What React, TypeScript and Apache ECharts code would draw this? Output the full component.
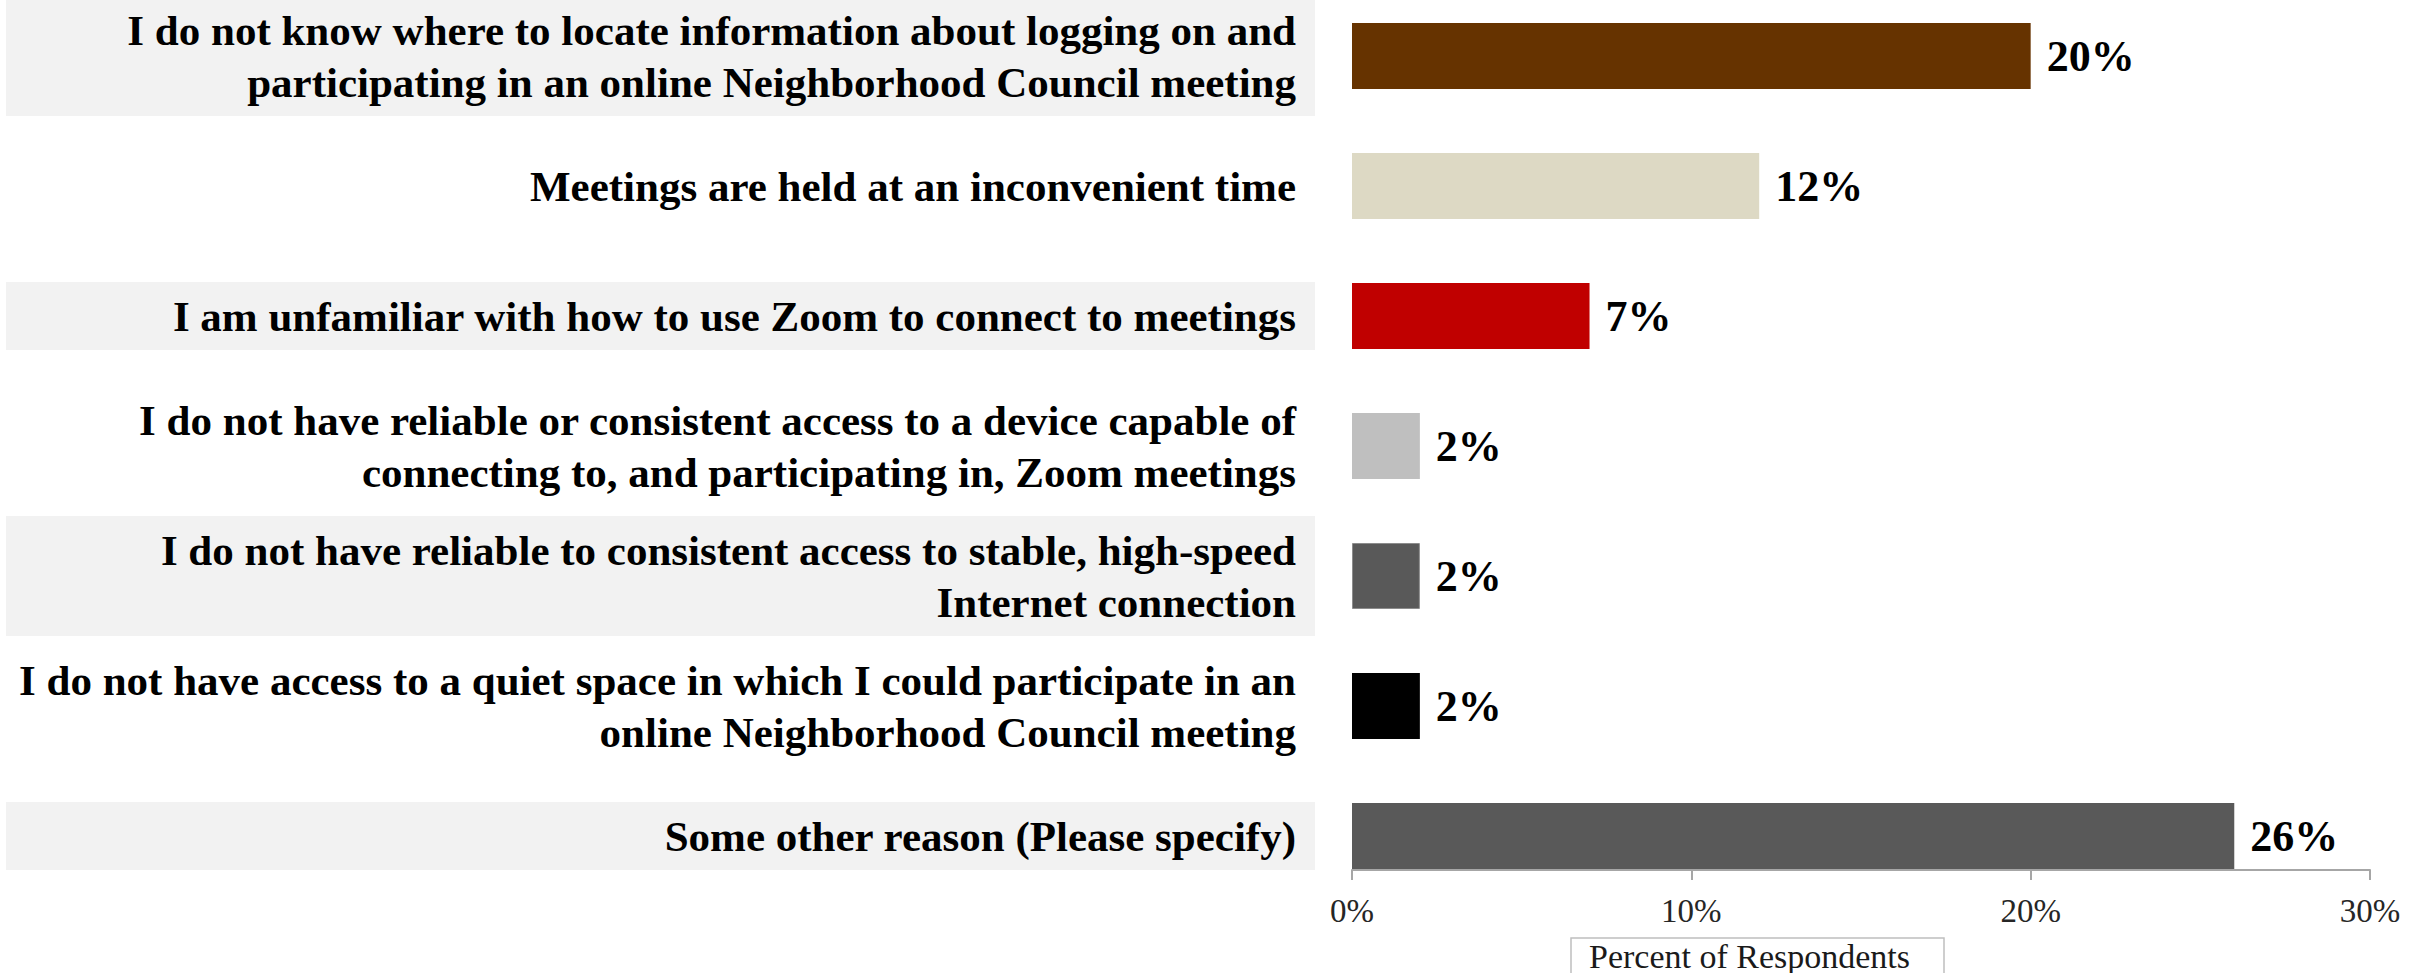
import React, { useEffect, useRef } from "react";
import * as echarts from "echarts";

const categories = [
  "I do not know where to locate information about logging on and\nparticipating in an online Neighborhood Council meeting",
  "Meetings are held at an inconvenient time",
  "I am unfamiliar with how to use Zoom to connect to meetings",
  "I do not have reliable or consistent access to a device capable of\nconnecting to, and participating in, Zoom meetings",
  "I do not have reliable to consistent access to stable, high-speed\nInternet connection",
  "I do not have access to a quiet space in which I could participate in an\nonline Neighborhood Council meeting",
  "Some other reason (Please specify)",
];
const percentValues = [20, 12, 7, 2, 2, 2, 26];
const xTickStep = 10;
const xMax = 30;
const axisTitle = "Percent of Respondents";
const barColors = ["#663300", "#DDD9C4", "#C00000", "#BFBFBF", "#595959", "#000000", "#595959"];
const shadedRows = [true, false, true, false, true, false, true];

const SERIF = "'Liberation Serif', 'Times New Roman', serif";

export default function App() {
  const ref = useRef<HTMLDivElement>(null);
  useEffect(() => {
    if (!ref.current) return;
    const chart = echarts.init(ref.current, undefined, { renderer: "svg" });
    const yData = categories.map((c, i) => ({
      value: c,
      textStyle: {
        backgroundColor: shadedRows[i] ? "#F2F2F2" : "transparent",
        width: 1290,
        padding: [8, 19, 8, 0],
      },
    }));
    chart.setOption({
      animation: false,
      backgroundColor: "#ffffff",
      title: {
        text: axisTitle,
        left: 1571,
        top: 947,
        padding: [1, 34, 14, 18],
        borderColor: "#BFBFBF",
        borderWidth: 1.5,
        textStyle: {
          fontFamily: SERIF,
          fontSize: 34,
          fontWeight: "normal",
          color: "#1a1a1a",
        },
      },
      grid: { left: 1352, right: 50, top: 0, bottom: 72, containLabel: false },
      xAxis: {
        type: "value",
        min: 0,
        max: xMax,
        interval: xTickStep,
        offset: -31,
        splitLine: { show: false },
        axisLine: { show: true, lineStyle: { color: "#A6A6A6", width: 2 } },
        axisTick: { show: true, length: 10, lineStyle: { color: "#A6A6A6", width: 2 } },
        axisLabel: {
          formatter: (v: number) => `${v}%`,
          fontFamily: SERIF,
          fontSize: 33,
          color: "#262626",
          margin: 24,
        },
      },
      yAxis: {
        type: "category",
        inverse: true,
        data: yData,
        axisLine: { show: false },
        axisTick: { show: false },
        splitLine: { show: false },
        axisLabel: {
          interval: 0,
          margin: 37,
          fontFamily: SERIF,
          fontSize: 43,
          fontWeight: "bold",
          color: "#000000",
          lineHeight: 52,
        },
      },
      series: [
        {
          type: "bar",
          barWidth: 66,
          data: percentValues.map((v, i) => ({
            value: v,
            itemStyle: {
              color: barColors[i],
              borderColor: i === 4 ? "#8C8C8C" : barColors[i],
              borderWidth: i === 4 ? 1 : 0,
            },
          })),
          label: {
            show: true,
            position: "right",
            distance: 16,
            formatter: (p: any) => `${p.value}%`,
            fontFamily: SERIF,
            fontSize: 44,
            fontWeight: "bold",
            color: "#000000",
          },
        },
      ],
    });
    return () => chart.dispose();
  }, []);
  return (
    <div
      ref={ref}
      style={{ position: "fixed", left: 0, top: -9, width: 2420, height: 982, background: "#fff" }}
    />
  );
}
